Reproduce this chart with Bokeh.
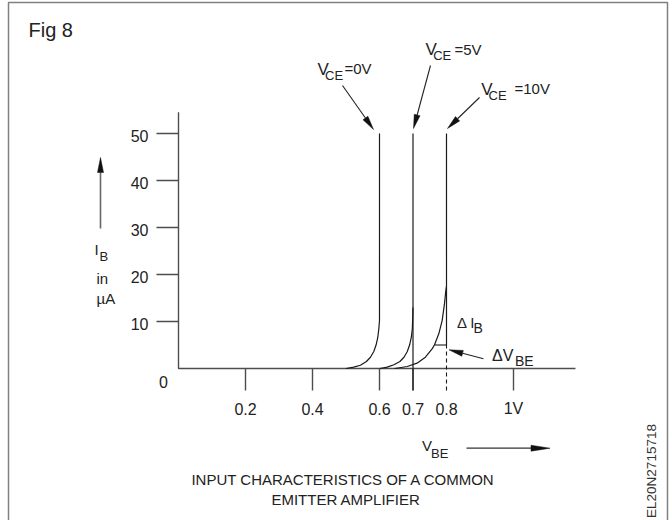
import numpy as np
from bokeh.plotting import figure
from bokeh.models import Range1d
from bokeh.embed import file_html
from bokeh.resources import INLINE
from bokeh.core.properties import value

# ---- data -------------------------------------------------------------
vbe_ticks = [0.2, 0.4, 0.6, 0.7, 0.8, 1.0]
vbe_tick_labels = ["0.2", "0.4", "0.6", "0.7", "0.8", "1V"]
ib_ticks = [10, 20, 30, 40, 50]
ib_tick_labels = ["10", "20", "30", "40", "50"]

# base current I_B (uA) against base-emitter voltage V_BE (V)
vce_labels = ["0V", "5V", "10V"]
knee_vbe = [0.6, 0.7, 0.8]
ib_max = 50.0

vce0_vbe = [0.500, 0.523, 0.543, 0.561, 0.573, 0.583, 0.590, 0.595, 0.598, 0.600, 0.600, 0.600]
vce0_ib = [0.0, 0.28, 0.70, 1.49, 2.40, 3.62, 5.04, 6.66, 8.45, 10.2, 11.6, 50.0]

vce5_vbe = [0.601, 0.623, 0.643, 0.661, 0.673, 0.683, 0.690, 0.695, 0.698, 0.699, 0.700]
vce5_ib = [0.0, 0.28, 0.79, 1.49, 2.40, 3.62, 5.04, 6.66, 8.45, 10.6, 13.0]

vce10_vbe = [0.645, 0.683, 0.712, 0.737, 0.757, 0.764, 0.777, 0.787, 0.794, 0.798, 0.800]
vce10_ib = [0.0, 0.43, 1.13, 2.41, 4.18, 5.0, 7.38, 10.2, 13.8, 16.6, 17.5]

dvbe_ib = 5.0          # level of the delta-V_BE step on the 10 V curve
dvbe_left = 0.764      # where that level meets the 10 V curve

# ---- page geometry ----------------------------------------------------
W, H = 672, 520
X0_PX, Y0_PX = 178.0, 368.0   # pixel position of the origin
SX, SY = 335.0, 4.7           # pixels per volt, pixels per uA
VBE_AXIS_END = 1.185
IB_AXIS_END = 54.5
TICK_PX = 22

def dx(px):
    return (px - X0_PX) / SX

def dy(py):
    return (Y0_PX - py) / SY

def to_px(x, y):
    return np.array([X0_PX + x * SX, Y0_PX - y * SY])

FONT = value("Liberation Sans")
INK = "#222222"
AXIS = "#4d4d4d"

p = figure(width=W, height=H, x_range=Range1d(dx(0), dx(W)), y_range=Range1d(dy(H), dy(0)),
           output_backend="svg", toolbar_location=None,
           x_axis_location=None, y_axis_location=None, min_border=0)
p.outline_line_color = None
p.background_fill_color = "white"
p.border_fill_color = "white"
p.xgrid.visible = False
p.ygrid.visible = False
p.grid.visible = False


def txt(x, y, s, size, align="left", baseline="alphabetic", xo=0, yo=0, angle=0.0, color=INK):
    # the renderer sets glyphs a little below the nominal baseline; lift them back
    lift = 0.37 * size if baseline == "alphabetic" else 0.0
    p.text(x=[x], y=[y], text=[s], text_font=FONT, text_font_size=f"{size}px",
           text_color=color, text_align=align, text_baseline=baseline,
           x_offset=xo, y_offset=yo - lift, angle=angle)


def arrow(x0, y0, x1, y1, head_len=14, head_w=6, color=INK, width=1.1, head_color="#111111"):
    a, b = to_px(x0, y0), to_px(x1, y1)
    d = (b - a) / np.linalg.norm(b - a)
    n = np.array([-d[1], d[0]])
    base = b - d * head_len
    p.line([x0, dx(base[0])], [y0, dy(base[1])], line_color=color, line_width=width)
    tri = [b, base + n * head_w / 2, base - n * head_w / 2]
    p.patch([dx(t[0]) for t in tri], [dy(t[1]) for t in tri],
            fill_color=head_color, line_color=head_color, line_width=0.5)


# ---- frame box -------------------------------------------------------
p.line([dx(8), dx(8), dx(667), dx(667)], [dy(H), dy(2), dy(2), dy(H)],
       line_color="#808080", line_width=1.5)

# ---- axes ---------------------------------------------------------------
p.line([0, 0, VBE_AXIS_END], [IB_AXIS_END, 0, 0], line_color=AXIS, line_width=1.4)

p.segment(x0=[-TICK_PX / SX] * len(ib_ticks), y0=ib_ticks, x1=[0] * len(ib_ticks), y1=ib_ticks,
          line_color=AXIS, line_width=1.4)
solid_x = [v for v in vbe_ticks if v != 0.8]
p.segment(x0=solid_x, y0=[0] * len(solid_x), x1=solid_x, y1=[-TICK_PX / SY] * len(solid_x),
          line_color=AXIS, line_width=1.4)

for v, lab in zip(vbe_ticks, vbe_tick_labels):
    txt(v, 0, lab, 16, align="center", yo=46)
for i, lab in zip(ib_ticks, ib_tick_labels):
    txt(0, i, lab, 16, align="right", xo=-30, yo=8.5)
txt(0, 0, "0", 16, align="center", xo=-15, yo=19)

# ---- characteristic curves ----------------------------------------------
CURVE = "#1a1a1a"
p.line(vce0_vbe, vce0_ib, line_color=CURVE, line_width=1.2)
p.line(vce5_vbe, vce5_ib, line_color=CURVE, line_width=1.2)
p.line(vce10_vbe, vce10_ib, line_color=CURVE, line_width=1.2)

# vertical limits of the 5 V and 10 V curves
p.line([knee_vbe[1], knee_vbe[1]], [-TICK_PX / SY, ib_max], line_color=CURVE, line_width=1.2)
p.line([knee_vbe[2], knee_vbe[2]], [dvbe_ib, ib_max], line_color=CURVE, line_width=1.2)
p.line([knee_vbe[2], knee_vbe[2]], [-TICK_PX / SY, dvbe_ib], line_color=CURVE,
       line_width=1.1, line_dash="4 3")
# delta V_BE step
p.line([dvbe_left, knee_vbe[2]], [dvbe_ib, dvbe_ib], line_color=CURVE, line_width=1.1)

# ---- V_CE labels with pointer arrows ----------------------------------
# offsets in pixels from the top of each curve
label_layout = [
    dict(v=(-62, -58), ce=(-54.5, -53.5), eq=(-35, -59.5), start=(-37, -48), tip=(-6, -4)),
    dict(v=(12.5, -78), ce=(20.2, -73), eq=(41.5, -78.7), start=(17.5, -68), tip=(0.5, -5)),
    dict(v=(34.7, -38), ce=(42, -33), eq=(68, -39), start=(33, -36), tip=(1, -5)),
]
for kv, lab, lay in zip(knee_vbe, vce_labels, label_layout):
    txt(kv, ib_max, "V", 17, xo=lay["v"][0], yo=lay["v"][1])
    txt(kv, ib_max, "CE", 13, xo=lay["ce"][0], yo=lay["ce"][1])
    txt(kv, ib_max, "=" + lab, 15, xo=lay["eq"][0], yo=lay["eq"][1])
    top = to_px(kv, ib_max)
    s = top + np.array(lay["start"])
    t = top + np.array(lay["tip"])
    arrow(dx(s[0]), dy(s[1]), dx(t[0]), dy(t[1]), head_len=14, head_w=6)

# delta labels
txt(dx(456.5), dy(327.5), "\u0394 I", 15)
txt(dx(473), dy(332.7), "B", 14)
txt(dx(491.5), dy(361), "\u0394V", 16)
txt(dx(514.5), dy(366), "BE", 14)
arrow(dx(483), dy(358.3), dx(448.5), dy(349.3), head_len=14, head_w=6)

# ---- axis titles -----------------------------------------------------------
arrow(dx(100), dy(228), dx(100), dy(157), head_len=15, head_w=6, color="#666666", width=1.6)
txt(dx(94), dy(255), "I", 15)
txt(dx(99), dy(261), "B", 13)
txt(dx(96), dy(283.5), "in", 15)
txt(dx(96), dy(304), "\u00b5A", 15)

txt(dx(421.5), dy(450.5), "V", 15)
txt(dx(430.5), dy(458), "BE", 13)
arrow(dx(466), dy(447.7), dx(549.5), dy(447.7), head_len=19, head_w=6, color="#333333", width=1.2)

# ---- captions --------------------------------------------------------------
txt(dx(28), dy(36.5), "Fig 8", 20)
txt(dx(343), dy(484.5), "INPUT CHARACTERISTICS OF A COMMON", 15, align="center")
txt(dx(345.5), dy(504.5), "EMITTER AMPLIFIER", 15, align="center")
txt(dx(651), dy(470.5), "EL20N2715718", 13.5, align="center", baseline="middle",
    angle=np.pi / 2, color="#333333")

open("out.html", "w").write(file_html(p, INLINE))
